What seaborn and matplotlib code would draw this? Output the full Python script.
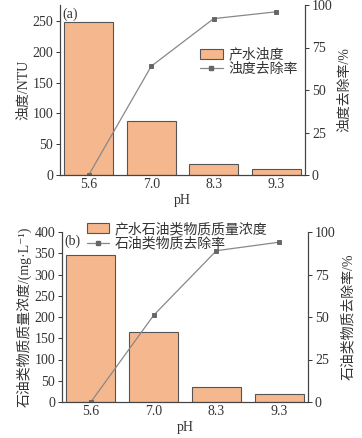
import matplotlib
matplotlib.use("Agg")
import matplotlib.pyplot as plt
import seaborn as sns
from matplotlib.patches import Patch
from matplotlib.lines import Line2D

sns.set_style("ticks")
plt.rcParams['font.family'] = ['Liberation Serif', 'DejaVu Serif', 'Noto Sans CJK SC']
plt.rcParams['font.size'] = 10
plt.rcParams['text.color'] = '#333333'
plt.rcParams['axes.labelcolor'] = '#333333'
plt.rcParams['xtick.color'] = '#333333'
plt.rcParams['ytick.color'] = '#333333'
plt.rcParams['axes.unicode_minus'] = False

# data
ph = ["5.6", "7.0", "8.3", "9.3"]
turbidity = [248, 88, 18, 10]
turbidity_removal = [0, 64, 92, 96]
oil_conc = [347, 165, 36, 18]
oil_removal = [0, 51, 89, 94]

bar_color = "#F5B88E"
edge_color = "#555555"
line_color = "#888888"
marker_color = "#666666"

fig = plt.figure(figsize=(3.62, 4.38), dpi=100)


def panel(rect, bars, rate, ylim, yticks, ylabel, rlabel, tag, bar_name, line_name, leg_kw):
    ax = fig.add_axes(rect)
    sns.barplot(x=ph, y=bars, ax=ax, color=bar_color, edgecolor=edge_color,
                linewidth=0.8, width=0.78, saturation=1)
    ax2 = ax.twinx()
    sns.pointplot(x=ph, y=rate, ax=ax2, color=line_color, markers="s",
                  markersize=3.5, linewidth=0.9)
    for ln in ax2.lines:
        ln.set_markerfacecolor(marker_color)
        ln.set_markeredgecolor(marker_color)
    ax.set_xlim(-0.46, 3.46)
    ax.set_ylim(*ylim)
    ax.set_yticks(yticks)
    ax2.set_ylim(0, 100)
    ax2.set_yticks([0, 25, 50, 75, 100])
    ax.set_xlabel("pH", labelpad=2)
    ax.set_ylabel(ylabel, labelpad=2)
    ax2.set_ylabel(rlabel, labelpad=4)
    for a in (ax, ax2):
        a.spines['top'].set_visible(False)
        for s in a.spines.values():
            s.set_color('#444444')
            s.set_linewidth(0.8)
        a.tick_params(length=3, width=0.7, pad=2)
    ax.tick_params(axis='x', direction='in')
    ax.text(0.01, 0.985, tag, transform=ax.transAxes, ha='left', va='top')
    handles = [Patch(facecolor=bar_color, edgecolor=edge_color, linewidth=0.8),
               Line2D([], [], color=line_color, marker='s', markersize=3.5, linewidth=0.9,
                      markerfacecolor=marker_color, markeredgecolor=marker_color)]
    ax2.legend(handles, [bar_name, line_name], frameon=False, handlelength=1.6,
               handletextpad=0.4, labelspacing=0.1, borderaxespad=0, **leg_kw)
    return ax, ax2


panel([60 / 362, 1 - 175 / 438, 245 / 362, 170 / 438], turbidity, turbidity_removal,
      (0, 276), [0, 50, 100, 150, 200, 250], "浊度/NTU", "浊度去除率/%", "(a)",
      "产水浊度", "浊度去除率",
      dict(loc='upper left', bbox_to_anchor=(0.55, 0.78)))

panel([62 / 362, 1 - 402 / 438, 246 / 362, 170 / 438], oil_conc, oil_removal,
      (0, 400), [0, 50, 100, 150, 200, 250, 300, 350, 400],
      "石油类物质质量浓度/(mg·L⁻¹)", "石油类物质去除率/%", "(b)",
      "产水石油类物质质量浓度", "石油类物质去除率",
      dict(loc='upper left', bbox_to_anchor=(0.08, 1.09)))

fig.savefig("out.png", dpi=100)
